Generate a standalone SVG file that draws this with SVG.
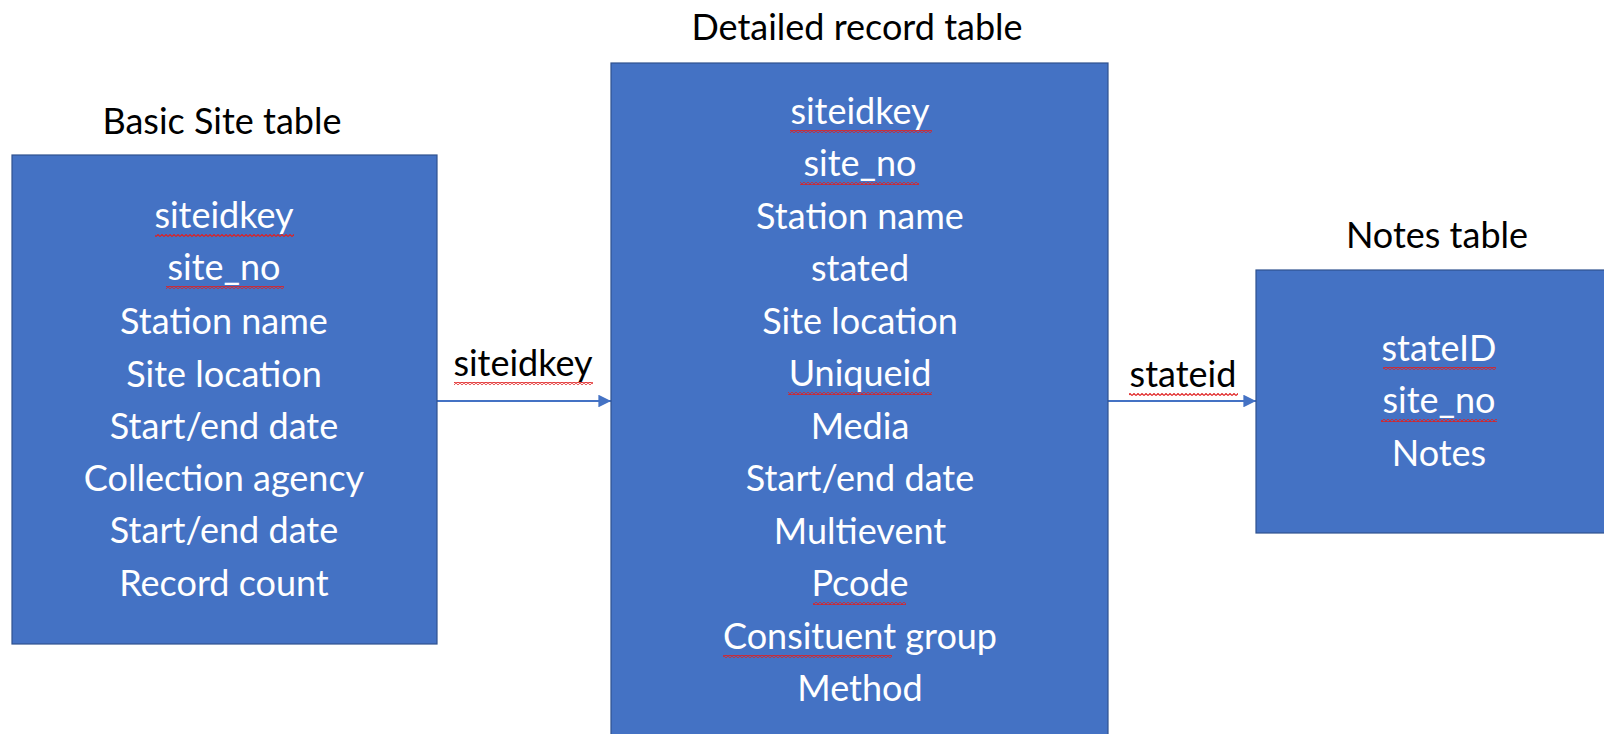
<svg xmlns="http://www.w3.org/2000/svg" width="1604" height="734" viewBox="0 0 1604 734">
<style>
.box{fill:#4472C4;stroke:#2F528F;stroke-width:1.2}
.t{font-family:Lato,"Liberation Sans",sans-serif;font-size:36px;text-anchor:middle}
.w{fill:#ffffff}
.k{fill:#000000}
.wave{fill:url(#wave)}
.conn{stroke:#4472C4;stroke-width:1.8;fill:none;marker-end:url(#arr)}
</style>
<defs>
<pattern id="wave" patternUnits="userSpaceOnUse" width="4" height="3">
<path d="M0,2.5 L2,0.5 L4,2.5" fill="none" stroke="#E02020" stroke-width="1.1"/>
</pattern>
<marker id="arr" viewBox="0 0 10 10" refX="10" refY="5" markerWidth="7" markerHeight="7" markerUnits="strokeWidth" orient="auto">
<path d="M0,0 L10,5 L0,10 Z" fill="#4472C4"/>
</marker>
</defs>
<rect width="1604" height="734" fill="#ffffff"/>
<g id="connectors">
<line class="conn" x1="437" y1="401" x2="611" y2="401"/>
<line class="conn" x1="1108" y1="401" x2="1256" y2="401"/>
<text class="t k" x="523" y="376">siteidkey</text>
<rect class="wave" x="454" y="382" width="139" height="3"/>
<text class="t k" x="1183" y="387">stateid</text>
<rect class="wave" x="1129" y="393" width="109" height="3"/>
</g>
<g id="basic-site-table">
<text class="t k" x="222" y="134">Basic Site table</text>
<rect class="box" x="12" y="155" width="425" height="489"/>
<text class="t w" x="224" y="228">siteidkey</text>
<rect class="wave" x="155" y="234" width="139" height="3"/>
<text class="t w" x="224" y="280">site_no</text>
<rect class="wave" x="166" y="286" width="118" height="3"/>
<text class="t w" x="224" y="334">Station name</text>
<text class="t w" x="224" y="387">Site location</text>
<text class="t w" x="224" y="439">Start/end date</text>
<text class="t w" x="224" y="491">Collection agency</text>
<text class="t w" x="224" y="543">Start/end date</text>
<text class="t w" x="224" y="596">Record count</text>
</g>
<g id="detailed-record-table">
<text class="t k" x="857" y="40">Detailed record table</text>
<rect class="box" x="611" y="63" width="497" height="680"/>
<text class="t w" x="860" y="124">siteidkey</text>
<rect class="wave" x="790" y="130" width="142" height="3"/>
<text class="t w" x="860" y="176">site_no</text>
<rect class="wave" x="800" y="182" width="119" height="3"/>
<text class="t w" x="860" y="229">Station name</text>
<text class="t w" x="860" y="281">stated</text>
<text class="t w" x="860" y="334">Site location</text>
<text class="t w" x="860" y="386">Uniqueid</text>
<rect class="wave" x="788" y="392" width="144" height="3"/>
<text class="t w" x="860" y="439">Media</text>
<text class="t w" x="860" y="491">Start/end date</text>
<text class="t w" x="860" y="544">Multievent</text>
<text class="t w" x="860" y="596">Pcode</text>
<rect class="wave" x="813" y="602" width="93" height="3"/>
<text class="t w" x="860" y="649">Consituent group</text>
<rect class="wave" x="723" y="655" width="169" height="3"/>
<text class="t w" x="860" y="701">Method</text>
</g>
<g id="notes-table">
<text class="t k" x="1437" y="248">Notes table</text>
<rect class="box" x="1256" y="270" width="360" height="263"/>
<text class="t w" x="1439" y="361">stateID</text>
<rect class="wave" x="1383" y="367" width="113" height="3"/>
<text class="t w" x="1439" y="413">site_no</text>
<rect class="wave" x="1381" y="419" width="116" height="3"/>
<text class="t w" x="1439" y="466">Notes</text>
</g>
</svg>
